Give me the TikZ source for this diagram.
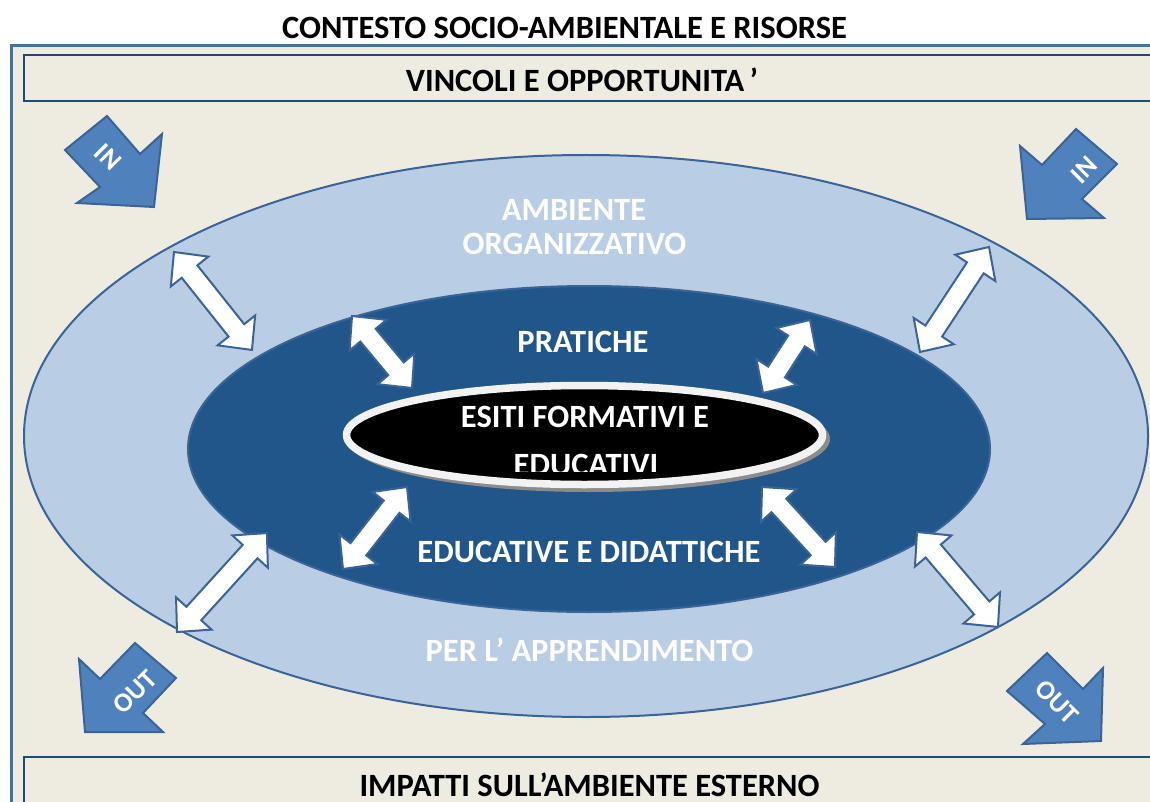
\documentclass[tikz,border=0pt]{standalone}
\usepackage{fontspec}
\setmainfont{Carlito}
\definecolor{bgbeige}{HTML}{EEECE1}
\definecolor{framebl}{HTML}{4470A0}
\definecolor{boxbl}{HTML}{1F497D}
\definecolor{lightbl}{HTML}{B9CDE5}
\definecolor{edgebl}{HTML}{3A6496}
\definecolor{darkbl}{HTML}{21568A}
\definecolor{arrbl}{HTML}{4F81BD}
\definecolor{ringw}{HTML}{F2F2F2}
\definecolor{shadowg}{HTML}{8C8C8C}
\tikzset{
  lbl/.style={font=\bfseries\fontsize{32.5}{38}\selectfont, text=#1, inner sep=0pt, anchor=center},
  lbl/.default=white,
  arrlbl/.style={font=\bfseries\fontsize{27}{30}\selectfont, text=white, inner sep=0pt},
  blockarr/.style={fill=arrbl, draw=edgebl, line width=2pt, line join=miter},
  dbar/.style={fill=white, draw=edgebl, line width=2pt, line join=miter},
}
\newcommand\dbarrow[4]{%
  \pgfmathsetmacro\dbDX{#3-#1}%
  \pgfmathsetmacro\dbDY{#2-#4}%
  \pgfmathsetmacro\dbL{veclen(\dbDX,\dbDY)}%
  \pgfmathsetmacro\dbA{atan2(\dbDY,\dbDX)}%
  \pgfmathsetmacro\dbM{\dbL-25}%
  \begin{scope}[shift={(#1,#2)},rotate=\dbA]
    \draw[dbar] (0,0) -- (25,24) -- (25,10) -- (\dbM,10) -- (\dbM,24) -- (\dbL,0)
      -- (\dbM,-24) -- (\dbM,-10) -- (25,-10) -- (25,-24) -- cycle;
  \end{scope}}
\begin{document}
\begin{tikzpicture}[x=1pt,y=-1pt]
\useasboundingbox (0,0) rectangle (1150,802);
\clip (0,0) rectangle (1150,802);
\fill[white] (0,0) rectangle (1150,802);
% frame and boxes
\draw[framebl, line width=2.5pt, fill=bgbeige] (11.5,45.5) rectangle (1170,830);
\draw[boxbl, line width=2.5pt] (24,55) rectangle (1170,101);
\draw[boxbl, line width=2.5pt] (24,757) rectangle (1170,830);
\node[lbl=black] (title) at (564.5,28) {CONTESTO SOCIO-AMBIENTALE E RISORSE};
\node[lbl=black] (vinc) at (582,80) {VINCOLI E OPPORTUNITA\,’};
\node[lbl=black] (imp) at (589.5,785) {IMPATTI SULL’AMBIENTE ESTERNO};
% ellipses
\draw[edgebl, line width=2pt, fill=lightbl] (586,436) ellipse [x radius=562, y radius=281];
\draw[edgebl, line width=2pt, fill=darkbl] (589,449) ellipse [x radius=401, y radius=163];
% double arrows
\dbarrow{174}{252}{252}{350}
\dbarrow{352}{316}{412}{388}
\dbarrow{989}{247}{920}{352}
\dbarrow{810}{320}{763}{393}
\dbarrow{177}{632}{267}{533}
\dbarrow{343}{569}{407}{487}
\dbarrow{762}{487}{835}{567}
\dbarrow{917}{532}{998}{627}
% inner ellipse
\fill[shadowg] (588.5,439) ellipse [x radius=241.5, y radius=53];
\draw[ringw, line width=7.5pt, fill=black] (584.5,435) ellipse [x radius=238, y radius=49.5];
% labels
\node[lbl] (amb1) at (574,210) {AMBIENTE};
\node[lbl] (amb2) at (574.5,244) {ORGANIZZATIVO};
\node[lbl] (prat) at (583,342) {PRATICHE};
\node[lbl] (esiti) at (585,417) {ESITI FORMATIVI E};
\begin{scope}
  \clip (300,300) rectangle (900,471);
  \node[lbl] (educ) at (586,465) {EDUCATIVI};
\end{scope}
\node[lbl] (edid) at (589,552) {EDUCATIVE E DIDATTICHE};
\node[lbl] (perl) at (589.5,650) {PER L’ APPRENDIMENTO};
% IN / OUT arrows
\draw[blockarr] (65,150) -- (107,116) -- (140,154) -- (162,134) -- (154,207) -- (77,203) -- (100,187) -- cycle;
\node[arrlbl, rotate=-45] (inl) at (108,157) {IN};
\draw[blockarr] (1076,129) -- (1117,164) -- (1082,199) -- (1104,218) -- (1027,219) -- (1020,146) -- (1042,165) -- cycle;
\node[arrlbl, rotate=45] (inr) at (1084,170) {IN};
\draw[blockarr] (135,643) -- (176,678) -- (143,713) -- (163,732) -- (85,732) -- (79,659) -- (100,679) -- cycle;
\node[arrlbl, rotate=45] (outl) at (135,692) {OUT};
\draw[blockarr] (1047,653) -- (1007,691) -- (1045,724) -- (1023,744) -- (1101,741) -- (1103,668) -- (1083,689) -- cycle;
\node[arrlbl, rotate=-45] (outr) at (1057,702) {OUT};
\end{tikzpicture}
\end{document}
